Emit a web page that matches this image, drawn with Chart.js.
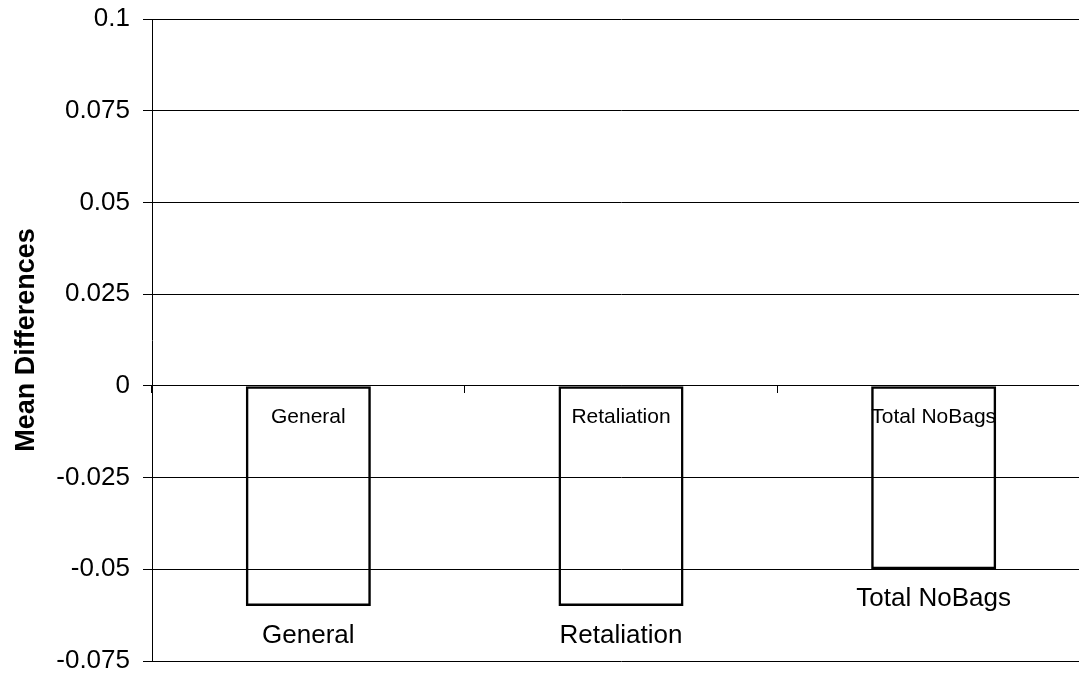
<!DOCTYPE html>
<html>
<head>
<meta charset="utf-8">
<script src="https://cdn.jsdelivr.net/npm/chart.js@4/dist/chart.umd.min.js"></script>
<style>
  html, body { margin: 0; padding: 0; background: #ffffff; overflow: hidden; }
  #wrap { position: relative; width: 1079px; height: 677px; overflow: hidden; }
  #chart { display: block; }
</style>
</head>
<body>
<div id="wrap"><canvas id="chart" width="1100" height="677"></canvas></div>
<script>
// Categories and mean differences
const categories = ['General', 'Retaliation', 'Total NoBags'];
const meanDiffs = [-0.06, -0.06, -0.05];
const yTickLabels = ['-0.075', '-0.05', '-0.025', '0', '0.025', '0.05', '0.075', '0.1'];
const yMin = -0.075;
const yMax = 0.1;
const yStep = 0.025;

const FONT = '"Liberation Sans", Arial, Helvetica, sans-serif';

// Labels on each bar: the name just under the zero line inside the bar,
// and again below the end of the bar.
const barLabels = {
  id: 'barLabels',
  afterDatasetsDraw(chart) {
    const ctx = chart.ctx;
    const meta = chart.getDatasetMeta(0);
    ctx.save();
    ctx.fillStyle = '#000000';
    ctx.textAlign = 'center';
    ctx.textBaseline = 'middle';
    meta.data.forEach((bar, i) => {
      const p = bar.getProps(['x', 'y', 'base'], true);
      ctx.font = '21px ' + FONT;
      ctx.fillText(categories[i], p.x, p.base + 31);
      ctx.font = '26px ' + FONT;
      ctx.fillText(categories[i], p.x, p.y + 30);
    });
    ctx.restore();
  }
};

new Chart(document.getElementById('chart'), {
  type: 'bar',
  data: {
    labels: categories,
    datasets: [{
      data: meanDiffs,
      backgroundColor: 'rgba(255,255,255,0)',
      borderColor: '#000000',
      borderWidth: 2.5,
      borderSkipped: false,
      barPercentage: 0.4,
      categoryPercentage: 1.0
    }]
  },
  options: {
    responsive: false,
    animation: false,
    events: [],
    layout: { padding: { left: 0, right: 10, top: 19, bottom: 16 } },
    plugins: {
      legend: { display: false },
      tooltip: { enabled: false },
      title: { display: false }
    },
    scales: {
      x: {
        type: 'category',
        position: { y: 0 },
        grid: {
          offset: true,
          drawOnChartArea: false,
          drawTicks: true,
          tickLength: 7,
          color: '#000000',
          lineWidth: 1
        },
        border: { display: true, color: '#000000', width: 1 },
        ticks: { display: false }
      },
      y: {
        min: yMin,
        max: yMax,
        afterFit(scale) {
          scale.width = 152;
          // the outer padding alone sets the plot's top and bottom
          scale.paddingTop = 0;
          scale.paddingBottom = 0;
        },
        ticks: {
          stepSize: yStep,
          padding: 13,
          color: '#000000',
          font: { family: FONT, size: 26 },
          callback: (value, index) => yTickLabels[index]
        },
        grid: {
          color: '#000000',
          lineWidth: 1,
          tickLength: 9
        },
        border: { display: true, color: '#000000', width: 1 },
        title: {
          display: true,
          text: 'Mean Differences',
          color: '#000000',
          font: { family: FONT, size: 27, weight: 'bold', lineHeight: 1.2 },
          padding: { top: 10, bottom: 0 }
        }
      }
    }
  },
  plugins: [barLabels]
});
</script>
</body>
</html>
